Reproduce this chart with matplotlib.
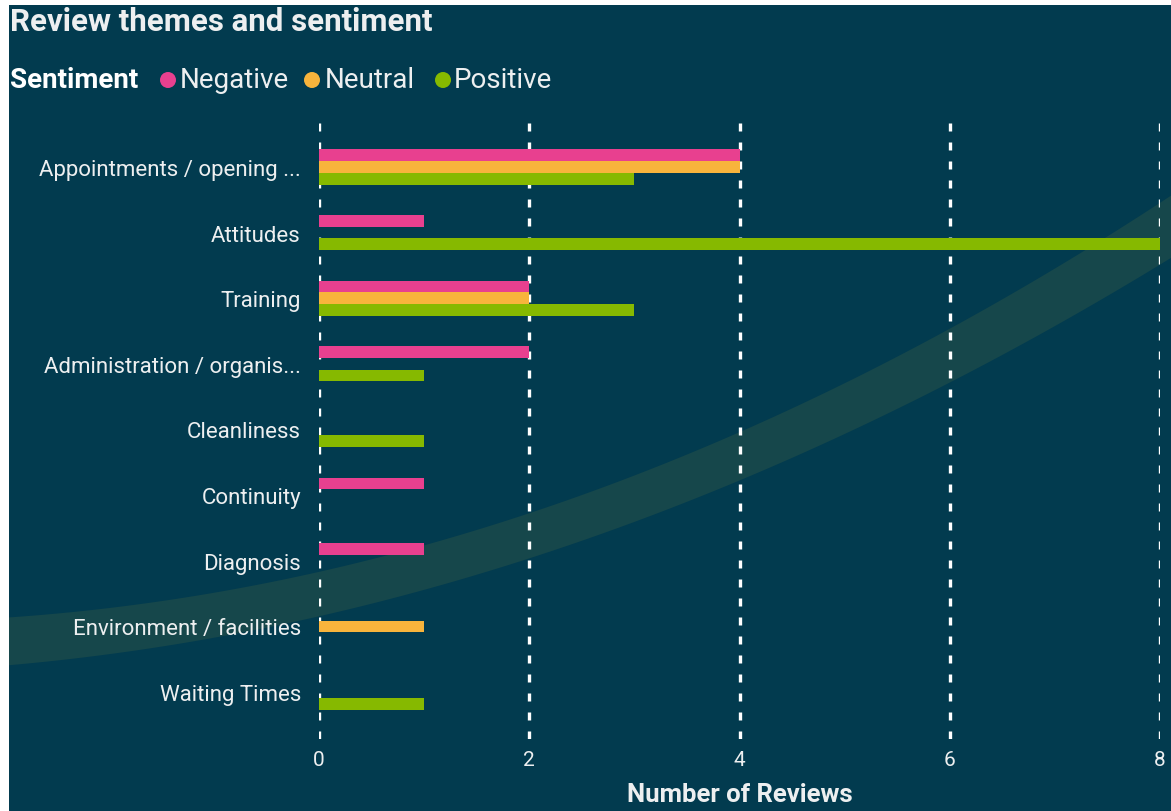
import numpy as np
import matplotlib
matplotlib.use("Agg")
import matplotlib.pyplot as plt
from matplotlib.patches import Rectangle, Polygon, Ellipse

# ---- data ----
categories = ["Appointments / opening ...", "Attitudes", "Training",
              "Administration / organis...", "Cleanliness", "Continuity",
              "Diagnosis", "Environment / facilities", "Waiting Times"]
negative = [4, 1, 2, 2, 0, 1, 1, 0, 0]
neutral = [4, 0, 2, 0, 0, 0, 0, 1, 0]
positive = [3, 8, 3, 1, 1, 0, 0, 0, 1]
series_names = ["Negative", "Neutral", "Positive"]
series_colors = ["#E8408F", "#F8B43C", "#86B900"]
x_ticks = [0, 2, 4, 6, 8]

W, H = 1171, 812
BG = "#023B4F"
TXT = "#EDEFF0"
FONT = ["Roboto", "DejaVu Sans"]
plt.rcParams["font.family"] = FONT

fig = plt.figure(figsize=(W / 100, H / 100), dpi=100)
fig.patch.set_facecolor("white")

def fx(px):
    return px / W

def fy(py):
    return 1 - py / H

# dark panel
fig.patches.append(Rectangle((fx(9), 0), fx(W - 9), fy(6), transform=fig.transFigure,
                             facecolor=BG, edgecolor="none", zorder=0))

# decorative swoosh band
xs = np.linspace(9, W, 200)
up_pts = ([10, 330, 1000, 1171], [620, 567, 307, 193])
lo_pts = ([10, 330, 1000, 1171], [667, 613, 360, 257])
up = np.polyval(np.polyfit(*up_pts, 2), xs)
lo = np.polyval(np.polyfit(*lo_pts, 2), xs)
poly = np.vstack([np.column_stack([fx(xs), fy(up)]),
                  np.column_stack([fx(xs[::-1]), fy(lo[::-1])])])
fig.patches.append(Polygon(poly, closed=True, transform=fig.transFigure,
                           facecolor="#16474B", edgecolor="none", zorder=0.5))

# axes
ax_left, ax_right, ax_top, ax_bot = 319, 1160, 123, 740
ax = fig.add_axes([fx(ax_left), fy(ax_bot), fx(ax_right - ax_left), (ax_bot - ax_top) / H])
ax.set_zorder(2)
ax.patch.set_alpha(0)

y = np.arange(len(categories))
bh = 0.178
for i, (vals, col) in enumerate(zip([negative, neutral, positive], series_colors)):
    ax.barh(y + (i - 1) * bh, vals, height=bh, color=col, edgecolor="none", zorder=3)

ppu = 65.625
ax.set_ylim(8 + (ax_bot - 693) / ppu, -(168 - ax_top) / ppu)
ax.set_xlim(0, 8)
ax.set_xticks(x_ticks)
ax.set_xticklabels([str(t) for t in x_ticks])
ax.set_yticks(y)
ax.set_yticklabels(categories)
for xt in x_ticks:
    ax.axvline(xt, color="white", lw=2.4, dashes=(2.4, 3.3), zorder=1)
for s in ax.spines.values():
    s.set_visible(False)
ax.tick_params(axis="both", length=0, colors=TXT)
ax.tick_params(axis="x", pad=8, labelsize=15)
ax.tick_params(axis="y", pad=13, labelsize=16)

# x axis title
fig.text((fx(ax_left) + fx(ax_right)) / 2, fy(795), "Number of Reviews", color=TXT,
         fontsize=18.5, fontweight="bold", va="center", ha="center")

# title and legend
fig.text(fx(10), fy(22), "Review themes and sentiment", color=TXT, fontsize=22.5,
         fontweight="bold", va="center", ha="left")
fig.text(fx(10), fy(81), "Sentiment", color="white", fontsize=20, fontweight="bold",
         va="center", ha="left")
leg_circle_x = [168, 312, 443]
leg_text_x = [180, 325, 454]
for cx, tx, name, col in zip(leg_circle_x, leg_text_x, series_names, series_colors):
    fig.patches.append(Ellipse((fx(cx), fy(81)), width=16 / W, height=16 / H,
                               transform=fig.transFigure, facecolor=col,
                               edgecolor="none", zorder=3))
    fig.text(fx(tx), fy(81), name, color=TXT, fontsize=20, va="center", ha="left")

fig.savefig("out.png", dpi=100, facecolor=fig.get_facecolor())
